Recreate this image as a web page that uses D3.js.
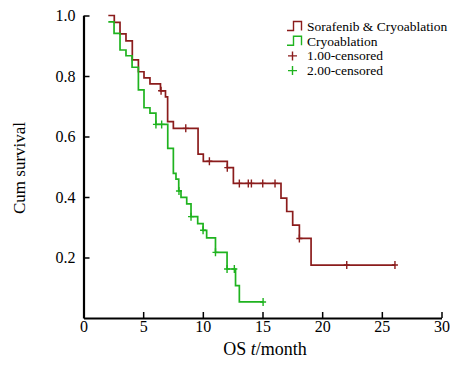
<!DOCTYPE html>
<html>
<head>
<meta charset="utf-8">
<script src="https://cdn.jsdelivr.net/npm/d3@7"></script>
<style>
    body { margin: 0; background: #fff; }
    svg { display: block; font-family: "Liberation Serif", "Times New Roman", serif; }
</style>
</head>
<body>
<div class="km-chart"></div>
<script>
// Sorafenib & Cryoablation: step start + drop times, survival after each drop
var sorTimes = [2.08, 2.58, 3.06, 3.56, 4.09, 4.6, 5.07, 5.57, 6.45, 6.87, 7.05, 7.53, 9.6, 10.04, 12.05, 12.56, 16.55, 17.03, 17.53, 18.09, 19.07];
var sorSurv  = [1.0, 0.977, 0.939, 0.916, 0.853, 0.814, 0.794, 0.774, 0.751, 0.731, 0.649, 0.627, 0.542, 0.518, 0.497, 0.445, 0.396, 0.352, 0.307, 0.263, 0.175];
var sorCensored = [6.5, 8.57, 10.55, 12.05, 13.06, 13.81, 14.07, 15.02, 16.05, 18.09, 22.06, 26.1];

// Cryoablation
var cryoTimes = [2.08, 2.56, 3.06, 3.56, 4.07, 4.6, 5.07, 5.57, 6.07, 7.06, 7.53, 7.75, 7.98, 8.17, 8.65, 9.01, 9.57, 10.02, 10.32, 11.06, 12.03, 12.74, 13.06];
var cryoSurv  = [0.979, 0.941, 0.886, 0.867, 0.829, 0.754, 0.695, 0.677, 0.640, 0.561, 0.478, 0.459, 0.420, 0.399, 0.377, 0.335, 0.312, 0.290, 0.265, 0.217, 0.162, 0.107, 0.053];
var cryoCensored = [6.07, 6.55, 8.0, 9.01, 10.02, 11.06, 12.03, 12.64, 15.05];

var xTicks = [0, 5, 10, 15, 20, 25, 30];
var yTicks = [0.2, 0.4, 0.6, 0.8, 1.0];
var legendLabels = ["Sorafenib & Cryoablation", "Cryoablation", "1.00-censored", "2.00-censored"];
var redColor = "#8b1c1c", greenColor = "#1fb31f";

var
    width = 450,
    height = 378,
    svg = d3.select('.km-chart').append('svg').attr('width', width).attr('height', height),
    x = d3.scaleLinear().domain([0, 30]).range([83.5, 441.5]),
    y = d3.scaleLinear().domain([0, 1]).range([318, 15.5]);

function survAt(times, surv, t) {
    var s = surv[0];
    for (var i = 0; i < times.length; i++) {
        if (times[i] <= t + 1e-9) s = surv[i];
    }
    return s;
}

function curvePoints(times, surv, censored) {
    var pts = times.map(function(t, i) { return [t, surv[i]]; });
    var last = d3.max(censored);
    if (last > times[times.length - 1]) pts.push([last, surv[surv.length - 1]]);
    return pts;
}

var stepLine = d3.line()
    .x(function(d) { return x(d[0]); })
    .y(function(d) { return y(d[1]); })
    .curve(d3.curveStepAfter);

// axes
var xAxis = svg.append('g')
    .attr('transform', 'translate(0,' + y(0) + ')')
    .call(d3.axisBottom(x).tickValues(xTicks).tickSizeInner(-6).tickSizeOuter(0).tickPadding(3).tickFormat(d3.format('d')));

var yAxis = svg.append('g')
    .attr('transform', 'translate(' + x(0) + ',0)')
    .call(d3.axisLeft(y).tickValues(yTicks).tickSizeInner(-6).tickSizeOuter(0).tickPadding(8).tickFormat(d3.format('.1f')));

[xAxis, yAxis].forEach(function(g) {
    g.attr('font-size', null).attr('font-family', null);
    g.select('.domain').attr('stroke', '#000').attr('stroke-width', 2.2);
    g.selectAll('.tick line').attr('stroke', '#000').attr('stroke-width', 1.5);
    g.selectAll('.tick text').attr('fill', '#000').style('font-size', '16px');
});

// axis titles
svg.append('text')
    .attr('x', 265).attr('y', 355)
    .attr('text-anchor', 'middle')
    .style('font-size', '18px')
    .call(function(t) {
        t.append('tspan').text('OS ');
        t.append('tspan').style('font-style', 'italic').text('t');
        t.append('tspan').text('/month');
    });

svg.append('text')
    .attr('transform', 'translate(25,168) rotate(-90)')
    .attr('text-anchor', 'middle')
    .style('font-size', '17px')
    .text('Cum survival');

// survival curves
var groups = [
    { times: sorTimes, surv: sorSurv, censored: sorCensored, color: redColor },
    { times: cryoTimes, surv: cryoSurv, censored: cryoCensored, color: greenColor }
];

groups.forEach(function(g) {
    svg.append('path')
        .datum(curvePoints(g.times, g.surv, g.censored))
        .attr('d', stepLine)
        .attr('fill', 'none')
        .attr('stroke', g.color)
        .attr('stroke-width', 1.7);

    svg.selectAll(null)
        .data(g.censored)
        .enter()
        .append('path')
        .attr('d', function(t) {
            var cx = x(t), cy = y(survAt(g.times, g.surv, t));
            return 'M' + (cx - 3) + ',' + cy + 'H' + (cx + 3) + 'M' + cx + ',' + (cy - 4) + 'V' + (cy + 4);
        })
        .attr('stroke', g.color)
        .attr('stroke-width', 1.4)
        .attr('fill', 'none');
});

// legend
var legend = svg.append('g').attr('transform', 'translate(287,0)'),
    rowY = [31, 45.7, 60.4, 75.1];

legend.selectAll('text')
    .data(legendLabels)
    .enter()
    .append('text')
    .attr('x', 20)
    .attr('y', function(d, i) { return rowY[i]; })
    .style('font-size', '13.5px')
    .text(function(d) { return d; });

[redColor, greenColor].forEach(function(c, i) {
    var b = rowY[i] - 0.5;
    legend.append('path')
        .attr('d', 'M0,' + b + 'H6.5V' + (b - 9) + 'H14.5V' + b)
        .attr('fill', 'none')
        .attr('stroke', c)
        .attr('stroke-width', 1.4);
    var cy = rowY[i + 2] - 4.5;
    legend.append('path')
        .attr('d', 'M1,' + cy + 'H10M5.5,' + (cy - 4.5) + 'V' + (cy + 4.5))
        .attr('stroke', c)
        .attr('stroke-width', 1.4);
});
</script>
</body>
</html>
